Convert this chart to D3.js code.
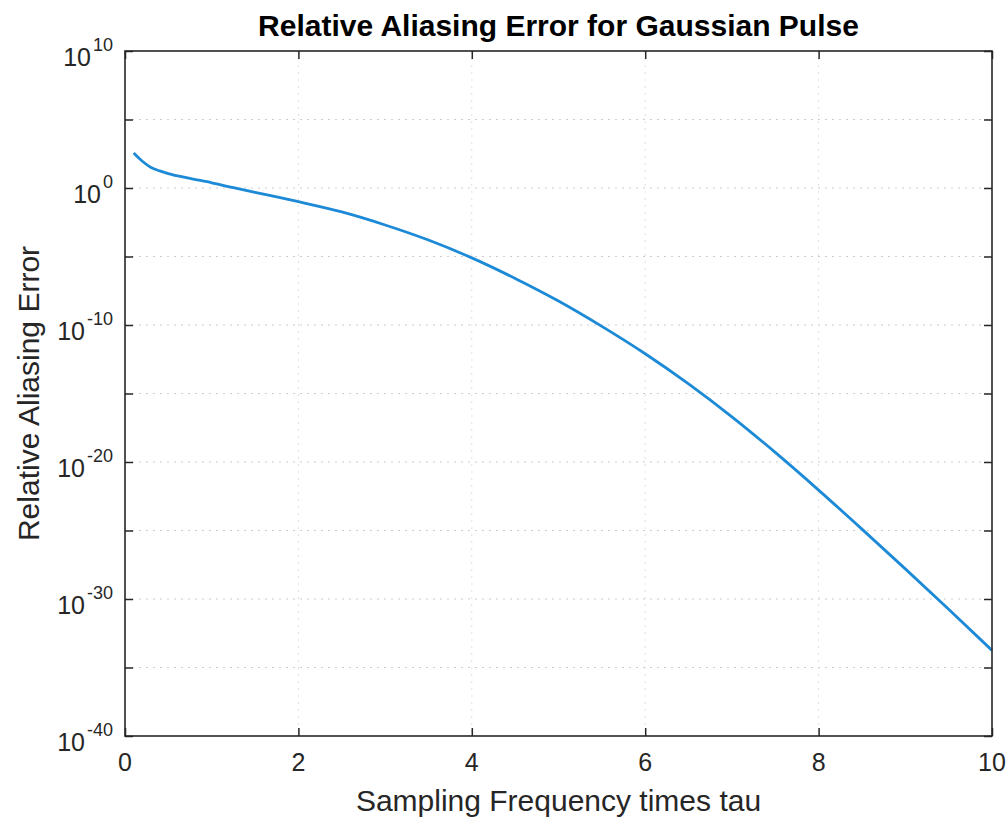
<!DOCTYPE html>
<html>
<head>
<meta charset="utf-8">
<script src="https://cdn.jsdelivr.net/npm/d3@7"></script>
<style>
  body { margin: 0; background: #fff; }
  svg { display: block; }
</style>
</head>
<body>
<div id="chart"></div>
<script>
// Sampling frequency times tau, and log10 of the relative aliasing error
const xValues = [0.1, 0.2, 0.3, 0.4, 0.5, 0.75, 1.0, 1.25, 1.5, 1.75, 2.0, 2.5, 3.0, 3.5, 4.0, 4.5, 5.0, 5.5, 6.0, 6.5, 7.0, 7.5, 8.0, 8.5, 9.0, 9.5, 10.0];
const logErr  = [2.55, 1.95, 1.5, 1.25, 1.05, 0.7, 0.38, 0.02, -0.32, -0.65, -1.0, -1.75, -2.7, -3.8, -5.1, -6.6, -8.25, -10.1, -12.1, -14.3, -16.7, -19.3, -22.05, -24.9, -27.8, -30.75, -33.75];

const xTicks = [0, 2, 4, 6, 8, 10];
const yTickExps = [10, 5, 0, -5, -10, -15, -20, -25, -30, -35, -40];
const yLabelExps = [10, 0, -10, -20, -30, -40];

const data = xValues.map((x, i) => ({ x: x, y: Math.pow(10, logErr[i]) }));

const W = 1008, H = 817;
const margin = { top: 51, right: 16, bottom: 81, left: 125 };
const width = W - margin.left - margin.right;
const height = H - margin.top - margin.bottom;

const svg = d3.select("#chart").append("svg")
    .attr("width", W)
    .attr("height", H);

const g = svg.append("g")
    .attr("transform", `translate(${margin.left},${margin.top})`);

const x = d3.scaleLinear().domain([0, 10]).range([0, width]);
const y = d3.scaleLog().domain([1e-40, 1e10]).range([height, 0]);

const axisColor = "#262626";
const font = "'Liberation Sans', Arial, Helvetica, sans-serif";

// grid
g.append("g").selectAll("line")
    .data(yTickExps.filter(e => e !== 10 && e !== -40))
    .join("line")
    .attr("x1", 0).attr("x2", width)
    .attr("y1", e => y(Math.pow(10, e)))
    .attr("y2", e => y(Math.pow(10, e)))
    .attr("stroke", "#c9ccd6")
    .attr("stroke-width", 1)
    .attr("stroke-dasharray", "2,5");

g.append("g").selectAll("line")
    .data(xTicks.filter(t => t !== 0 && t !== 10))
    .join("line")
    .attr("x1", d => x(d)).attr("x2", d => x(d))
    .attr("y1", 0).attr("y2", height)
    .attr("stroke", "#dcdfe6")
    .attr("stroke-width", 1)
    .attr("stroke-dasharray", "2,5");

// curve
const line = d3.line()
    .x(d => x(d.x))
    .y(d => y(d.y))
    .curve(d3.curveMonotoneX);

g.append("path")
    .datum(data)
    .attr("fill", "none")
    .attr("stroke", "#1c8ad6")
    .attr("stroke-width", 2.8)
    .attr("d", line);

// axes with inward ticks (box)
const tickLen = 8;
const yTickVals = yTickExps.map(e => Math.pow(10, e));

g.append("g")
    .attr("transform", `translate(0,${height})`)
    .call(d3.axisTop(x).tickValues(xTicks).tickSize(tickLen).tickFormat(""))
    .call(a => a.select(".domain").remove());

g.append("g")
    .call(d3.axisBottom(x).tickValues(xTicks).tickSize(tickLen).tickFormat(""))
    .call(a => a.select(".domain").remove());

g.append("g")
    .call(d3.axisRight(y).tickValues(yTickVals).tickSize(tickLen).tickFormat(""))
    .call(a => a.select(".domain").remove());

g.append("g")
    .attr("transform", `translate(${width},0)`)
    .call(d3.axisLeft(y).tickValues(yTickVals).tickSize(tickLen).tickFormat(""))
    .call(a => a.select(".domain").remove());

g.selectAll(".tick line").attr("stroke", axisColor).attr("stroke-width", 1.5);

g.append("rect")
    .attr("width", width)
    .attr("height", height)
    .attr("fill", "none")
    .attr("stroke", axisColor)
    .attr("stroke-width", 1.6);

// x tick labels
g.append("g").selectAll("text")
    .data(xTicks)
    .join("text")
    .attr("x", d => x(d))
    .attr("y", height + 35)
    .attr("text-anchor", "middle")
    .style("font", `25px ${font}`)
    .attr("fill", axisColor)
    .text(d => d);

// y tick labels 10^n
const yl = g.append("g").selectAll("text")
    .data(yLabelExps)
    .join("text")
    .attr("x", -12)
    .attr("y", e => y(Math.pow(10, e)) + 15)
    .attr("text-anchor", "end")
    .style("font", `25px ${font}`)
    .attr("fill", axisColor);
yl.append("tspan").text("10");
yl.append("tspan")
    .attr("dy", -15)
    .attr("dx", 2)
    .style("font-size", "18px")
    .text(e => e);

// title and axis labels
svg.append("text")
    .attr("x", margin.left + width / 2)
    .attr("y", 36)
    .attr("text-anchor", "middle")
    .style("font", `bold 30px ${font}`)
    .attr("fill", "#000")
    .text("Relative Aliasing Error for Gaussian Pulse");

svg.append("text")
    .attr("x", margin.left + width / 2)
    .attr("y", 811)
    .attr("text-anchor", "middle")
    .style("font", `30px ${font}`)
    .attr("fill", axisColor)
    .text("Sampling Frequency times tau");

svg.append("text")
    .attr("transform", `translate(39,${margin.top + height / 2}) rotate(-90)`)
    .attr("text-anchor", "middle")
    .style("font", `30px ${font}`)
    .attr("fill", axisColor)
    .text("Relative Aliasing Error");
</script>
</body>
</html>
